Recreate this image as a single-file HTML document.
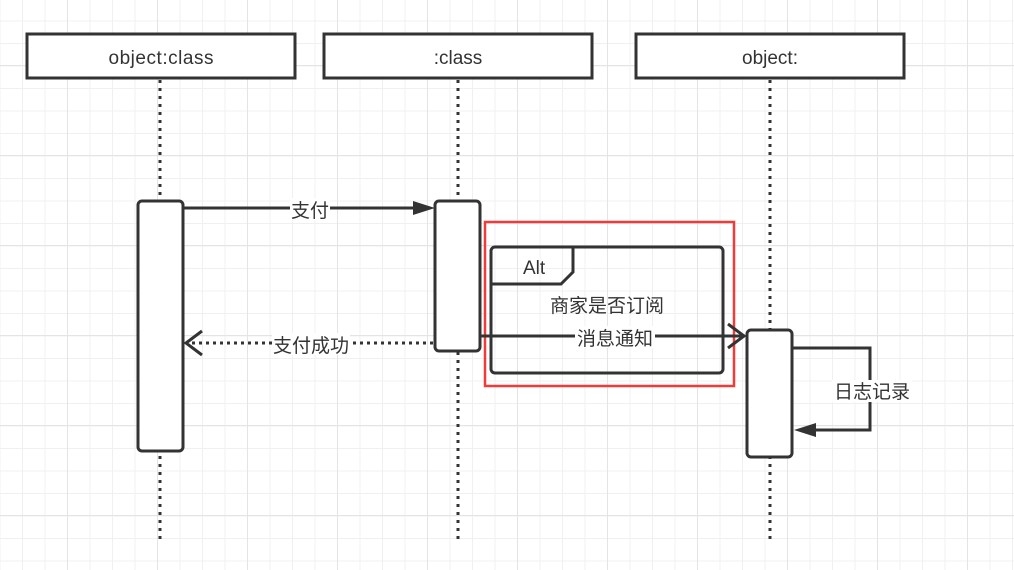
<!DOCTYPE html><html><head><meta charset="utf-8"><style>
body{margin:0;width:1014px;height:570px;overflow:hidden;background:#fff;
background-image:linear-gradient(#e4e4e4 1px,transparent 1px),linear-gradient(90deg,#e4e4e4 1px,transparent 1px),linear-gradient(#f0f0f0 1px,transparent 1px),linear-gradient(90deg,#f0f0f0 1px,transparent 1px);
background-size:90px 90px,90px 90px,22.5px 22.5px,22.5px 22.5px;background-position:0 65px,67px 0,0 -2px,-0.5px 0;}
svg{position:absolute;left:0;top:0}
text{font-family:"Liberation Sans","Noto Sans CJK SC",sans-serif;fill:#333;font-size:19px}
</style></head><body>
<svg width="1014" height="570" viewBox="0 0 1014 570">
<g stroke="#333" stroke-width="3" stroke-dasharray="3,5" fill="none">
<line x1="160" y1="80" x2="160" y2="540"/><line x1="458" y1="80" x2="458" y2="540"/><line x1="770" y1="80" x2="770" y2="540"/>
</g>
<g stroke="#333" stroke-width="3" fill="#fff">
<rect x="27" y="34" width="268" height="44"/><rect x="324" y="34" width="268" height="44"/><rect x="636" y="34" width="268" height="44"/>
<rect x="138" y="201" width="45" height="250" rx="4"/><rect x="435" y="201" width="45" height="150" rx="4"/>
</g>
<text x="161" y="64" text-anchor="middle" textLength="105">object:class</text>
<text x="458" y="64" text-anchor="middle">:class</text>
<text x="770" y="64" text-anchor="middle">object:</text>
<line x1="183" y1="208" x2="415" y2="208" stroke="#333" stroke-width="3"/>
<polygon points="435,208 413,201 413,215" fill="#333"/>
<rect x="290" y="198" width="40" height="22" fill="#fff"/><text x="310" y="217" text-anchor="middle">支付</text>
<line x1="433" y1="343" x2="190" y2="343" stroke="#333" stroke-width="3" stroke-dasharray="3,4"/>
<polyline points="202,331 186,343 202,355" fill="none" stroke="#333" stroke-width="3"/>
<rect x="272" y="333" width="78" height="22" fill="#fff"/><text x="311" y="352" text-anchor="middle">支付成功</text>
<rect x="485" y="222" width="249" height="164" fill="none" stroke="#f23a3a" stroke-width="2.5"/>
<rect x="491" y="247" width="232" height="126" rx="4" fill="none" stroke="#333" stroke-width="3"/>
<polyline points="491,284 561,284 573,272 573,247" fill="none" stroke="#333" stroke-width="3"/>
<text x="523" y="274" font-size="19">Alt</text>
<text x="607" y="312" text-anchor="middle">商家是否订阅</text>
<line x1="480" y1="336" x2="745" y2="336" stroke="#333" stroke-width="3"/>
<polyline points="728,324 744,336 728,348" fill="none" stroke="#333" stroke-width="3"/>
<rect x="575" y="326" width="80" height="22" fill="#fff"/><text x="615" y="345" text-anchor="middle">消息通知</text>
<rect x="747" y="330" width="45" height="127" rx="4" fill="#fff" stroke="#333" stroke-width="3"/>
<polyline points="792,348 870,348 870,430 814,430" fill="none" stroke="#333" stroke-width="3"/>
<polygon points="794,430 816,423 816,437" fill="#333"/>
<rect x="832" y="380" width="80" height="22" fill="#fff"/><text x="872" y="398" text-anchor="middle">日志记录</text>
</svg></body></html>
